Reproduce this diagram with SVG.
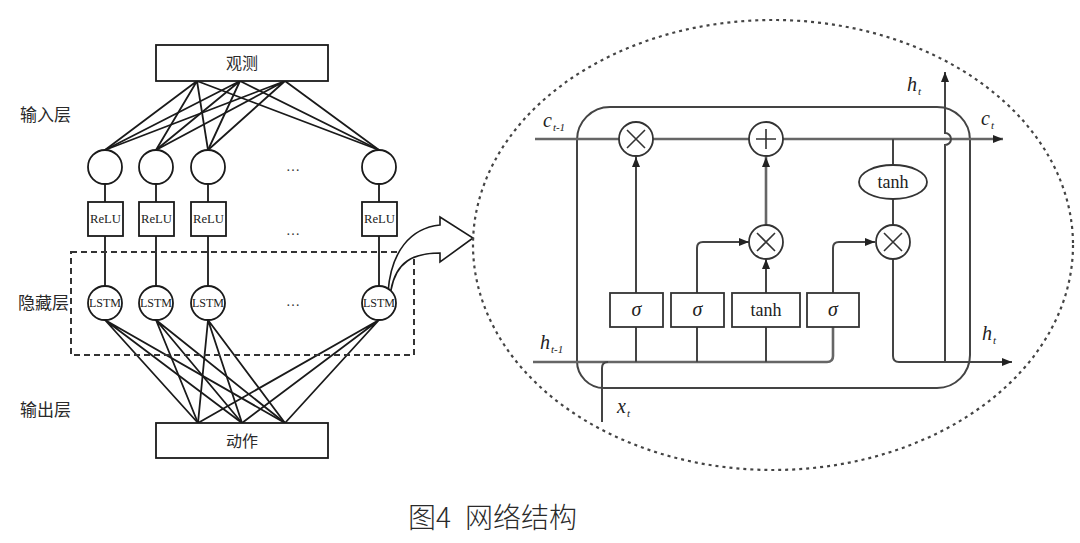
<svg xmlns="http://www.w3.org/2000/svg" width="1080" height="543" viewBox="0 0 1080 543">
<style>
.ln{stroke:#1a1a1a;stroke-width:1.8;fill:none}
.box{fill:#fff;stroke:#1a1a1a;stroke-width:1.8}
.cjk{font-family:"Noto Sans CJK SC","Noto Sans CJK JP",sans-serif;fill:#2a2a2a}
.ser{font-family:"Liberation Serif",serif;fill:#222}
.it{font-family:"Liberation Serif",serif;font-style:italic;fill:#222}
.cl{stroke:#444;stroke-width:2;fill:none}
.cg{stroke:#666;stroke-width:2.6;fill:none}
.op{fill:#fff;stroke:#333;stroke-width:1.8}
.opx{stroke:#333;stroke-width:1.6}
.dots{font-family:"Liberation Serif",serif;font-size:14px;fill:#333}
</style>
<defs>
<marker id="ah" markerUnits="userSpaceOnUse" markerWidth="10" markerHeight="8" refX="10" refY="4" orient="auto">
<path d="M0,0 L10,4 L0,8 z" fill="#222"/>
</marker>
</defs>
<rect width="1080" height="543" fill="#fff"/>

<!-- left network connectors -->
<g id="connectors-left">
<g class="ln">
<path d="M197 81 L105 150 M197 81 L156 150 M197 81 L208 150 M197 81 L379 150"/>
<path d="M240 81 L105 150 M240 81 L156 150 M240 81 L208 150 M240 81 L379 150"/>
<path d="M285 81 L105 150 M285 81 L156 150 M285 81 L208 150 M285 81 L379 150"/>
<path d="M105 184 V202 M156 184 V202 M208 184 V202 M379 184 V202"/>
<path d="M105 236 V286 M156 236 V286 M208 236 V286 M379 236 V286"/>
<path d="M105 320 L198 423 M105 320 L242 423 M105 320 L285 423"/>
<path d="M156 320 L198 423 M156 320 L242 423 M156 320 L285 423"/>
<path d="M208 320 L198 423 M208 320 L242 423 M208 320 L285 423"/>
<path d="M379 320 L198 423 M379 320 L242 423 M379 320 L285 423"/>
</g>
<rect x="71" y="252" width="343" height="103" fill="none" stroke="#333" stroke-width="2" stroke-dasharray="6 4"/>
<path id="zoom-arrow" d="M388 292 C391 252 410 228 440 225 L440 217 L473 238 L440 262 L440 253 C413 253 396 262 391 290 Z" fill="#fff" stroke="#1a1a1a" stroke-width="1.6"/>
</g>

<g id="obs">
<rect class="box" x="156" y="45" width="172" height="36"/>
<text class="cjk" x="242" y="69" font-size="16" text-anchor="middle">观测</text>
</g>
<g id="act">
<rect class="box" x="156" y="423" width="172" height="35"/>
<text class="cjk" x="242" y="447" font-size="16" text-anchor="middle">动作</text>
</g>

<g id="layer-labels">
<text class="cjk" x="20" y="121" font-size="17">输入层</text>
<text class="cjk" x="18" y="309" font-size="17">隐藏层</text>
<text class="cjk" x="20" y="416" font-size="17">输出层</text>
</g>

<g id="in1"><circle class="box" cx="105" cy="167" r="17"/></g>
<g id="in2"><circle class="box" cx="156" cy="167" r="17"/></g>
<g id="in3"><circle class="box" cx="208" cy="167" r="17"/></g>
<g id="inN"><circle class="box" cx="379" cy="167" r="17"/></g>

<g id="relu1"><rect class="box" x="88" y="202" width="35" height="34"/><text class="ser" x="105.5" y="223" font-size="12" text-anchor="middle" textLength="31" lengthAdjust="spacingAndGlyphs">ReLU</text></g>
<g id="relu2"><rect class="box" x="139" y="202" width="35" height="34"/><text class="ser" x="156.5" y="223" font-size="12" text-anchor="middle" textLength="31" lengthAdjust="spacingAndGlyphs">ReLU</text></g>
<g id="relu3"><rect class="box" x="191" y="202" width="35" height="34"/><text class="ser" x="208.5" y="223" font-size="12" text-anchor="middle" textLength="31" lengthAdjust="spacingAndGlyphs">ReLU</text></g>
<g id="reluN"><rect class="box" x="362" y="202" width="35" height="34"/><text class="ser" x="379.5" y="223" font-size="12" text-anchor="middle" textLength="31" lengthAdjust="spacingAndGlyphs">ReLU</text></g>

<g id="lstm1"><circle class="box" cx="105" cy="303" r="17"/><text class="ser" x="105" y="307" font-size="12" text-anchor="middle" textLength="32" lengthAdjust="spacingAndGlyphs">LSTM</text></g>
<g id="lstm2"><circle class="box" cx="156" cy="303" r="17"/><text class="ser" x="156" y="307" font-size="12" text-anchor="middle" textLength="32" lengthAdjust="spacingAndGlyphs">LSTM</text></g>
<g id="lstm3"><circle class="box" cx="208" cy="303" r="17"/><text class="ser" x="208" y="307" font-size="12" text-anchor="middle" textLength="32" lengthAdjust="spacingAndGlyphs">LSTM</text></g>
<g id="lstmN"><circle class="box" cx="379" cy="303" r="17"/><text class="ser" x="379" y="307" font-size="12" text-anchor="middle" textLength="32" lengthAdjust="spacingAndGlyphs">LSTM</text></g>

<g id="ellipsis">
<text class="dots" x="293" y="171" text-anchor="middle">…</text>
<text class="dots" x="293" y="235" text-anchor="middle">…</text>
<text class="dots" x="293" y="306" text-anchor="middle">…</text>
</g>

<!-- LSTM cell detail -->
<ellipse id="zoom-ellipse" cx="773" cy="245" rx="300" ry="225" fill="none" stroke="#444" stroke-width="2.2" stroke-dasharray="3 4"/>

<g id="connectors-cell">
<path class="cl" d="M613 107 H937 A33 33 0 0 1 970 140 V355 A33 33 0 0 1 937 388 H604 A27 27 0 0 1 577 361 V140 A33 33 0 0 1 610 107 Z"/>
<path class="cg" d="M535 139 H1003" marker-end="url(#ah)"/>
<path class="cg" d="M533 362 H827 Q833 362 833 356 V327"/>
<path class="cl" d="M602 422 V368 Q602 362 608 362"/>
<path class="cl" d="M636 362 V327"/>
<path class="cl" d="M636 293 V157" marker-end="url(#ah)"/>
<path class="cl" d="M697 362 V327"/>
<path class="cl" d="M697 293 V248 Q697 242 703 242 H749" marker-end="url(#ah)"/>
<path class="cl" d="M766 362 V327"/>
<path class="cl" d="M766 293 V259" marker-end="url(#ah)"/>
<path class="cg" d="M766 225 V157" marker-end="url(#ah)"/>
<path class="cl" d="M833 293 V248 Q833 242 839 242 H875" marker-end="url(#ah)"/>
<path class="cl" d="M893 139 V165 M893 199 V225"/>
<path class="cl" d="M893 259 V356 Q893 362 899 362 H1012" marker-end="url(#ah)"/>
<path class="cl" d="M945 362 V145 A6 6 0 0 0 945 133 V72" marker-end="url(#ah)"/>
</g>

<g id="mul-forget"><circle class="op" cx="636" cy="139" r="17"/><path class="opx" d="M627 130 L645 148 M645 130 L627 148"/></g>
<g id="add"><circle class="op" cx="766" cy="139" r="17"/><path class="opx" d="M766 129 V149 M756 139 H776"/></g>
<g id="mul-input"><circle class="op" cx="766" cy="242" r="17"/><path class="opx" d="M757 233 L775 251 M775 233 L757 251"/></g>
<g id="mul-output"><circle class="op" cx="893" cy="242" r="17"/><path class="opx" d="M884 233 L902 251 M902 233 L884 251"/></g>
<g id="tanh-c"><ellipse class="op" cx="893" cy="182" rx="34" ry="17"/><text class="ser" x="893" y="188" font-size="18" text-anchor="middle">tanh</text></g>

<g id="sig1"><rect class="op" x="610" y="293" width="53" height="34"/><text class="it" x="636.5" y="316" font-size="20" text-anchor="middle">σ</text></g>
<g id="sig2"><rect class="op" x="671" y="293" width="53" height="34"/><text class="it" x="697.5" y="316" font-size="20" text-anchor="middle">σ</text></g>
<g id="tanh-g"><rect class="op" x="732" y="293" width="68" height="34"/><text class="ser" x="766" y="316" font-size="18" text-anchor="middle">tanh</text></g>
<g id="sig3"><rect class="op" x="807" y="293" width="52" height="34"/><text class="it" x="833" y="316" font-size="20" text-anchor="middle">σ</text></g>

<g id="cell-labels">
<text class="it" x="543" y="127" font-size="20">c<tspan font-size="11" dy="4" dx="1">t-1</tspan></text>
<text class="it" x="981" y="125" font-size="20">c<tspan font-size="11" dy="4" dx="1">t</tspan></text>
<text class="it" x="907" y="91" font-size="20">h<tspan font-size="11" dy="4" dx="1">t</tspan></text>
<text class="it" x="540" y="349" font-size="20">h<tspan font-size="11" dy="4" dx="1">t-1</tspan></text>
<text class="it" x="982" y="340" font-size="20">h<tspan font-size="11" dy="4" dx="1">t</tspan></text>
<text class="it" x="617" y="413" font-size="20">x<tspan font-size="11" dy="4" dx="1">t</tspan></text>
</g>

<text id="caption" class="cjk" x="408" y="528" font-size="28" font-weight="300" fill="#2a2a2a">图4<tspan dx="14">网络结构</tspan></text>
</svg>
